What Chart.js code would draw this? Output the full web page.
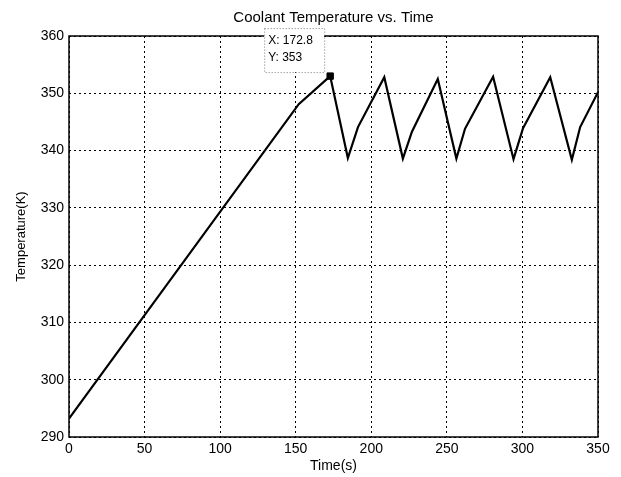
<!DOCTYPE html>
<html>
<head>
<meta charset="utf-8">
<script src="https://cdn.jsdelivr.net/npm/chart.js@4"></script>
<style>
  html, body { margin: 0; padding: 0; background: #fff; }
  #wrap { width: 621px; height: 477px; }
</style>
</head>
<body>
<div id="wrap"><canvas id="tempChart" width="621" height="477"></canvas></div>
<script>
// Coolant temperature trace
const timeSec = [0, 152, 172.8, 184.5, 191.2, 208.6, 220.9, 226.9, 244, 256.3, 262, 280.6, 294.1, 300.4, 318.4, 332.7, 338.2, 350];
const tempK   = [293.2, 348.1, 353, 338.7, 344.1, 352.8, 338.6, 343.3, 352.5, 338.6, 343.8, 352.9, 338.5, 343.9, 352.8, 338.4, 344.1, 350.2];

// data tip
const tipTime = [172.8];
const tipTemp = [353];

const xTicks = [0, 50, 100, 150, 200, 250, 300, 350];
const yTicks = [290, 300, 310, 320, 330, 340, 350, 360];

const fontFam = '"Liberation Sans", Arial, sans-serif';

const whiteBg = {
    id: 'whiteBg',
    beforeDraw(chart) {
        const ctx = chart.ctx;
        ctx.save();
        ctx.fillStyle = '#fff';
        ctx.fillRect(0, 0, chart.width, chart.height);
        ctx.restore();
    }
};

// solid box round the plot, then the data tip on top
const frameAndTip = {
    id: 'frameAndTip',
    afterDraw(chart) {
        const ctx = chart.ctx;
        const a = chart.chartArea;
        ctx.save();
        ctx.strokeStyle = '#000';
        ctx.lineWidth = 1.5;
        ctx.setLineDash([]);
        ctx.strokeRect(a.left, a.top, a.right - a.left, a.bottom - a.top);

        const px = chart.scales.x.getPixelForValue(tipTime[0]);
        const py = chart.scales.y.getPixelForValue(tipTemp[0]);
        const bw = 60, bh = 44;
        const bx = px - 6 - bw, by = py - 4 - bh;
        ctx.fillStyle = '#fff';
        ctx.fillRect(bx, by, bw, bh);
        ctx.strokeStyle = '#777';
        ctx.lineWidth = 1;
        ctx.setLineDash([1, 2]);
        ctx.strokeRect(bx + 0.5, by + 0.5, bw, bh);
        ctx.setLineDash([]);
        ctx.fillStyle = '#000';
        ctx.font = '12px ' + fontFam;
        ctx.textBaseline = 'middle';
        ctx.fillText('X: ' + tipTime[0], bx + 4, by + 13);
        ctx.fillText('Y: ' + tipTemp[0], bx + 4, by + 30);
        ctx.restore();
    }
};

const ctx = document.getElementById('tempChart').getContext('2d');
new Chart(ctx, {
    type: 'scatter',
    data: {
        datasets: [
            {
                data: timeSec.map((t, i) => ({ x: t, y: tempK[i] })),
                showLine: true,
                borderColor: '#000',
                borderWidth: 2.2,
                pointRadius: 0,
                tension: 0,
                order: 2
            },
            {
                data: tipTime.map((t, i) => ({ x: t, y: tipTemp[i] })),
                pointStyle: 'rect',
                pointRadius: 4.5,
                backgroundColor: '#000',
                borderColor: '#000',
                order: 1
            }
        ]
    },
    options: {
        responsive: false,
        animation: false,
        layout: { padding: { left: 0, right: 23, top: 0, bottom: 0 } },
        plugins: {
            legend: { display: false },
            tooltip: { enabled: false },
            title: {
                display: true,
                text: 'Coolant Temperature vs. Time',
                fullSize: false,
                color: '#000',
                font: { family: fontFam, size: 15, weight: 'normal' },
                padding: { top: 9, bottom: 9 }
            }
        },
        scales: {
            x: {
                type: 'linear',
                min: 0,
                max: 350,
                afterBuildTicks: s => { s.ticks = xTicks.map(v => ({ value: v })); },
                afterFit: s => { s.height = 40; },
                ticks: { color: '#000', padding: 4, maxRotation: 0, font: { family: fontFam, size: 14 } },
                grid: { color: '#000', lineWidth: 1, drawTicks: false },
                border: { display: false, dash: [2, 3] },
                title: { display: true, text: 'Time(s)', color: '#000', font: { family: fontFam, size: 14 }, padding: { top: 0, bottom: 2 } }
            },
            y: {
                type: 'linear',
                min: 290,
                max: 360,
                afterBuildTicks: s => { s.ticks = yTicks.map(v => ({ value: v })); },
                afterFit: s => { s.width = 69; },
                ticks: { color: '#000', padding: 5, font: { family: fontFam, size: 14 } },
                grid: { color: '#000', lineWidth: 1, drawTicks: false },
                border: { display: false, dash: [2, 3] },
                title: { display: true, text: 'Temperature(K)', color: '#000', font: { family: fontFam, size: 13 }, padding: { top: 14, bottom: 0 } }
            }
        }
    },
    plugins: [whiteBg, frameAndTip]
});
</script>
</body>
</html>
